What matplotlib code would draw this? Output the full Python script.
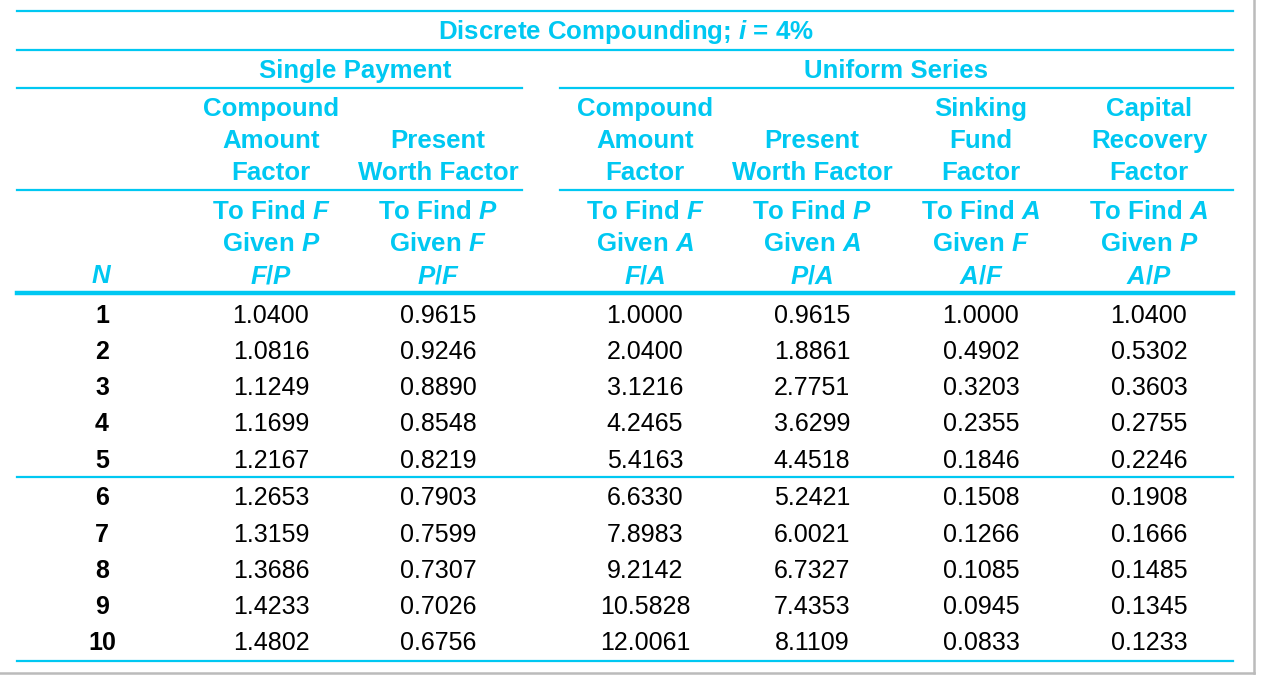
import matplotlib.pyplot as plt

plt.rcParams['font.family'] = ['Liberation Sans', 'DejaVu Sans']
plt.rcParams['mathtext.fontset'] = 'custom'
plt.rcParams['mathtext.rm'] = 'Liberation Sans:bold'
plt.rcParams['mathtext.it'] = 'Liberation Sans:italic:bold'
plt.rcParams['mathtext.bf'] = 'Liberation Sans:bold'

CYAN = '#00C8F2'

title = r'Discrete Compounding; $i$ = 4%'
groups = ['Single Payment', 'Uniform Series']
factor_names = ['Compound\nAmount\nFactor', 'Present\nWorth Factor',
                'Compound\nAmount\nFactor', 'Present\nWorth Factor',
                'Sinking\nFund\nFactor', 'Capital\nRecovery\nFactor']
find_given = [('F', 'P'), ('P', 'F'), ('F', 'A'), ('P', 'A'), ('A', 'F'), ('A', 'P')]

N = [1, 2, 3, 4, 5, 6, 7, 8, 9, 10]
FP = [1.0400, 1.0816, 1.1249, 1.1699, 1.2167, 1.2653, 1.3159, 1.3686, 1.4233, 1.4802]
PF = [0.9615, 0.9246, 0.8890, 0.8548, 0.8219, 0.7903, 0.7599, 0.7307, 0.7026, 0.6756]
FA = [1.0000, 2.0400, 3.1216, 4.2465, 5.4163, 6.6330, 7.8983, 9.2142, 10.5828, 12.0061]
PA = [0.9615, 1.8861, 2.7751, 3.6299, 4.4518, 5.2421, 6.0021, 6.7327, 7.4353, 8.1109]
AF = [1.0000, 0.4902, 0.3203, 0.2355, 0.1846, 0.1508, 0.1266, 0.1085, 0.0945, 0.0833]
AP = [1.0400, 0.5302, 0.3603, 0.2755, 0.2246, 0.1908, 0.1666, 0.1485, 0.1345, 0.1233]
columns = [FP, PF, FA, PA, AF, AP]

fig = plt.figure(figsize=(12.62, 7.0), dpi=100)
ax = fig.add_axes([0, 0, 1, 1])
ax.set_xlim(0, 1262)
ax.set_ylim(700, 0)
ax.axis('off')

col_x = [271, 438, 645, 812, 981, 1149]
n_x = 102
fs = 18      # body numbers
hfs = 18.6   # bold headers
dy = 2       # text baseline nudge

# rules
L, R = 17, 1233
ax.plot([L, R], [11, 11], color=CYAN, lw=1.6)
ax.plot([L, R], [50, 50], color=CYAN, lw=1.6)
for y in (88, 190):
    ax.plot([L, 522], [y, y], color=CYAN, lw=1.6)
    ax.plot([560, R], [y, y], color=CYAN, lw=1.6)
ax.plot([L, R], [293, 293], color=CYAN, lw=3.2)
ax.plot([L, R], [477, 477], color=CYAN, lw=1.6)
ax.plot([L, R], [661, 661], color=CYAN, lw=1.6)

# outer frame (gray)
ax.plot([1254, 1254], [0, 673], color='#BBBBBB', lw=1.8)
ax.plot([0, 1254], [673, 673], color='#BBBBBB', lw=1.8)

# headers
ax.text(626, 30 + dy, title, ha='center', va='center', fontsize=hfs, color=CYAN, fontweight='bold')
ax.text(355, 69 + dy, groups[0], ha='center', va='center', fontsize=hfs, color=CYAN, fontweight='bold')
ax.text(896, 69 + dy, groups[1], ha='center', va='center', fontsize=hfs, color=CYAN, fontweight='bold')

for x, name, (f, g) in zip(col_x, factor_names, find_given):
    lines = name.split('\n')
    for k, line in enumerate(reversed(lines)):
        ax.text(x, 171 - 32 * k + dy, line, ha='center', va='center', fontsize=hfs,
                color=CYAN, fontweight='bold')
    ax.text(x, 210 + dy, 'To Find $\\it{%s}$' % f, ha='center', va='center', fontsize=hfs,
            color=CYAN, fontweight='bold')
    ax.text(x, 242 + dy, 'Given $\\it{%s}$' % g, ha='center', va='center', fontsize=hfs,
            color=CYAN, fontweight='bold')
    ax.text(x, 274 + dy, '$\\it{%s/%s}$' % (f, g), ha='center', va='center', fontsize=hfs,
            color=CYAN)

ax.text(n_x, 274 + dy, '$\\it{N}$', ha='center', va='center', fontsize=hfs, color=CYAN)

# body
row_y = [314, 350, 386, 422, 459, 496, 533, 569, 605, 641]
for i, n in enumerate(N):
    ax.text(n_x, row_y[i] + dy, str(n), ha='center', va='center', fontsize=fs,
            color='black', fontweight='bold')
    for x, col in zip(col_x, columns):
        ax.text(x, row_y[i] + dy, '%.4f' % col[i], ha='center', va='center',
                fontsize=fs, color='black')

fig.savefig('out.png', dpi=100)
